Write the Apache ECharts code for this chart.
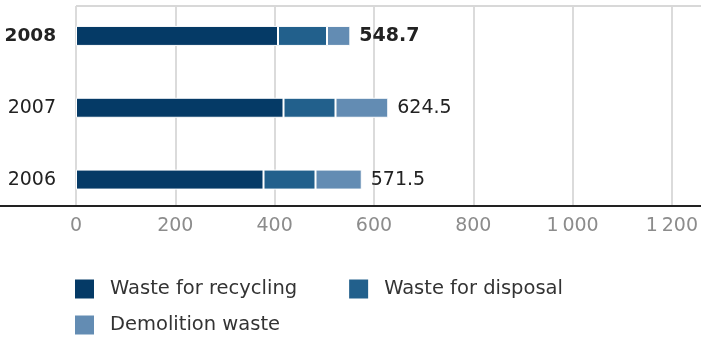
<!DOCTYPE html>
<html>
<head>
<meta charset="utf-8">
<script src="https://cdn.jsdelivr.net/npm/echarts@6/dist/echarts.min.js"></script>
<style>
  html, body { margin: 0; padding: 0; background: #fff; }
  #chart { width: 701px; height: 338px; }
</style>
</head>
<body>
<div id="chart"></div>
<script>
// Waste volumes by year (thousand metric tons), stacked by type
const years = ['2006', '2007', '2008'];
const recycling = [375, 415, 404];
const disposal = [104, 104, 98];
const demolition = [92.5, 105.5, 46.7];
const xTicks = [0, 200, 400, 600, 800, 1000, 1200];
const seriesNames = ['Waste for recycling', 'Waste for disposal', 'Demolition waste'];

const colors = ['#053a66', '#22608c', '#638cb3'];
const FONT = 'DejaVu Sans';
const highlightYear = '2008';

const totals = years.map((_, i) => (recycling[i] + disposal[i] + demolition[i]).toFixed(1));

const chart = echarts.init(document.getElementById('chart'), null, { renderer: 'canvas' });

const barItem = (c) => ({ color: c, borderColor: '#ffffff', borderWidth: 1 });

const legendBase = {
  orient: 'horizontal', padding: 0,
  itemWidth: 19, itemHeight: 19, itemGap: 52, icon: 'rect',
  itemStyle: { borderWidth: 0 },
  textStyle: { fontSize: 19.5, color: '#333', fontFamily: FONT, padding: [0, 0, 0, 11] }
};

chart.setOption({
  animation: false,
  textStyle: { fontFamily: FONT },
  grid: [
    { left: 76, right: 25, top: -2, height: 217.5, containLabel: false },
    { left: 76, right: 25, top: 6, bottom: 132, containLabel: false }
  ],
  xAxis: [
    { gridIndex: 0, type: 'value', min: 0, max: 1200, show: false },
    {
      gridIndex: 1, type: 'value', min: xTicks[0], max: xTicks[xTicks.length - 1], interval: 200,
      axisLine: { show: false }, axisTick: { show: false },
      splitLine: { show: true, lineStyle: { color: '#cfcfcf', width: 1.5 } },
      axisLabel: {
        margin: 11, color: '#8c8c8c', fontSize: 19, fontFamily: FONT,
        formatter: (v) => v >= 1000 ? String(v).replace(/(\d)(\d{3})$/, '$1\u2009$2') : String(v)
      }
    }
  ],
  yAxis: [
    {
      gridIndex: 0, type: 'category', data: years,
      axisLine: { show: false }, axisTick: { show: false }, splitLine: { show: false },
      axisLabel: {
        margin: 20, fontSize: 19, color: '#222', fontFamily: FONT,
        formatter: (v) => v === highlightYear ? '{b|' + v + '}' : v,
        rich: { b: { fontWeight: 'bold', fontSize: 18.5, color: '#222', fontFamily: FONT } }
      }
    },
    { gridIndex: 1, type: 'value', show: false }
  ],
  legend: [
    Object.assign({}, legendBase, { data: [seriesNames[0], seriesNames[1]], left: 75, top: 279 }),
    Object.assign({}, legendBase, { data: [seriesNames[2]], left: 75, top: 315 })
  ],
  graphic: [
    { type: 'line', shape: { x1: 76, y1: 6, x2: 701, y2: 6 }, style: { stroke: '#d8d8d8', lineWidth: 2 }, z: 1 },
    { type: 'line', shape: { x1: 0, y1: 206, x2: 701, y2: 206 }, style: { stroke: '#222', lineWidth: 2 }, z: 10 }
  ],
  series: [
    {
      name: seriesNames[0], type: 'bar', stack: 'total', xAxisIndex: 0, yAxisIndex: 0,
      barWidth: 20, data: recycling, itemStyle: barItem(colors[0]), z: 5
    },
    {
      name: seriesNames[1], type: 'bar', stack: 'total', xAxisIndex: 0, yAxisIndex: 0,
      barWidth: 20, data: disposal, itemStyle: barItem(colors[1]), z: 5
    },
    {
      name: seriesNames[2], type: 'bar', stack: 'total', xAxisIndex: 0, yAxisIndex: 0,
      barWidth: 20, data: demolition, itemStyle: barItem(colors[2]), z: 5,
      label: {
        show: true, position: 'right', distance: 9,
        fontSize: 19, color: '#222', fontFamily: FONT,
        formatter: (p) => years[p.dataIndex] === highlightYear
          ? '{b|' + totals[p.dataIndex] + '}' : totals[p.dataIndex],
        rich: { b: { fontWeight: 'bold', fontSize: 19, color: '#222', fontFamily: FONT } }
      }
    }
  ]
});
</script>
</body>
</html>
